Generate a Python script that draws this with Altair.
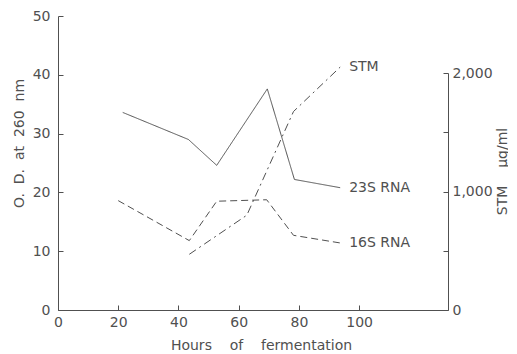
import altair as alt
import pandas as pd

# ---- data ----
hours_23s = [21.5, 43.3, 52.7, 69.5, 78.5, 93.7]
od_23s = [33.6, 29.0, 24.6, 37.6, 22.2, 20.8]

hours_16s = [20.0, 43.6, 52.7, 69.3, 78.2, 93.7]
od_16s = [18.6, 11.8, 18.5, 18.75, 12.7, 11.4]

hours_stm = [43.6, 62.7, 78.2, 93.7]
stm_ug = [470, 800, 1675, 2050]

x_ticks = [0, 20, 40, 60, 80, 100]
od_ticks = [0, 10, 20, 30, 40, 50]
stm_ticks = [0, 500, 1000, 1500, 2000]

series_names = ["23S RNA", "16S RNA"]
stm_name = "STM"

NB = "\u00a0"
x_title = f"Hours{NB}{NB}{NB} of{NB}{NB}{NB} fermentation"
y_title = f"O.{NB} D.{NB} at{NB} 260{NB} nm"
y2_title = f"STM{NB}{NB}{NB} μg/ml"

# ---- tables ----
rna = pd.DataFrame({
    "series": [series_names[0]] * len(hours_23s) + [series_names[1]] * len(hours_16s),
    "hours": hours_23s + hours_16s,
    "od": od_23s + od_16s,
})
rna_labels = pd.DataFrame({
    "label": series_names,
    "hours": [hours_23s[-1], hours_16s[-1]],
    "od": [od_23s[-1], od_16s[-1]],
})
stm = pd.DataFrame({"hours": hours_stm, "stm": stm_ug})
stm_labels = pd.DataFrame({"label": [stm_name], "hours": [hours_stm[-1]], "stm": [stm_ug[-1]]})

# ---- styling ----
FONT = "DejaVu Sans"
INK = "#505050"
FS = 14
W, H = 390, 294
X_MAX = 129.5

xs = alt.Scale(domain=[0, X_MAX], nice=False, zero=False)
ys = alt.Scale(domain=[0, 50], nice=False)
ss = alt.Scale(domain=[0, 2000], range=[H, 57], nice=False)

# ---- RNA group ----
rna_lines = alt.Chart(rna).mark_line(color=INK, strokeWidth=1).encode(
    x=alt.X("hours:Q", scale=xs, axis=alt.Axis(
        orient="bottom", values=x_ticks, ticks=False, labelFlush=False,
        labelPadding=5, title=x_title,
        titleX=203, titleY=35, titleAlign="center", titleBaseline="middle")),
    y=alt.Y("od:Q", scale=ys, axis=alt.Axis(
        orient="left", values=od_ticks, ticks=False, labelFlush=False,
        labelPadding=8, title=y_title, titleAngle=270,
        titleX=-39, titleY=127, titleAlign="center", titleBaseline="middle")),
    strokeDash=alt.StrokeDash("series:N", scale=alt.Scale(
        domain=series_names, range=[[1, 0], [7, 4]]), legend=None),
)
rna_text = alt.Chart(rna_labels).mark_text(
    align="left", baseline="middle", dx=9, font=FONT, fontSize=FS, color=INK
).encode(
    x=alt.X("hours:Q", scale=xs),
    y=alt.Y("od:Q", scale=ys),
    text="label:N",
)
rna_group = alt.layer(rna_lines, rna_text)

# inward ticks for left and bottom axes
rna_ticks = alt.Chart(rna).mark_line(opacity=0).encode(
    x=alt.X("hours:Q", scale=xs, axis=alt.Axis(
        orient="top", offset=-H, labels=False, domain=False, tickSize=5,
        values=x_ticks, title=None)),
    y=alt.Y("od:Q", scale=ys, axis=alt.Axis(
        orient="right", offset=-W, labels=False, domain=False, tickSize=5,
        values=od_ticks, title=None)),
)

# ---- STM group ----
stm_line = alt.Chart(stm).mark_line(color=INK, strokeWidth=1, strokeDash=[8, 4, 2, 4]).encode(
    x=alt.X("hours:Q", scale=xs, axis=None),
    y=alt.Y("stm:Q", scale=ss, axis=alt.Axis(
        orient="right", values=stm_ticks, ticks=False, labelPadding=4,
        labelExpr="datum.value % 1000 == 0 ? format(datum.value, ',') : ''",
        title=y2_title, titleAngle=270, titleX=54, titleY=155,
        titleAlign="center", titleBaseline="middle")),
)
stm_text = alt.Chart(stm_labels).mark_text(
    align="left", baseline="middle", dx=9, font=FONT, fontSize=FS, color=INK
).encode(
    x=alt.X("hours:Q", scale=xs),
    y=alt.Y("stm:Q", scale=ss),
    text="label:N",
)
stm_group = alt.layer(stm_line, stm_text)

stm_tick_layer = alt.Chart(stm).mark_line(opacity=0).encode(
    x=alt.X("hours:Q", scale=xs, axis=None),
    y=alt.Y("stm:Q", scale=ss, axis=alt.Axis(
        orient="left", offset=-W, labels=False, domain=False, tickSize=5,
        values=stm_ticks, title=None)),
)

chart = alt.layer(rna_group, rna_ticks, stm_group, stm_tick_layer).resolve_scale(
    y="independent"
).resolve_axis(
    x="independent", y="independent"
).properties(
    width=W, height=H,
    background="white",
    autosize=alt.AutoSizeParams(type="none"),
    padding={"left": 50, "top": 8, "right": 60, "bottom": 44},
).configure_view(stroke=None).configure_axis(
    grid=False, domainColor=INK, tickColor=INK, domainWidth=1, tickWidth=1,
    labelFont=FONT, labelFontSize=FS, labelColor=INK,
    titleFont=FONT, titleFontSize=FS, titleColor=INK, titleFontWeight="normal",
    labelOverlap=False,
)

chart.save("out.html", embed_options={"renderer": "svg", "actions": False})
